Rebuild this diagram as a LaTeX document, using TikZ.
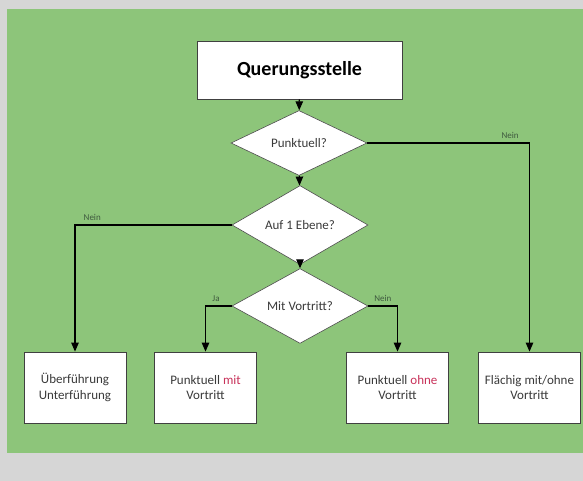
\documentclass[tikz,border=0pt]{standalone}
\usepackage{fontspec}
\setmainfont{Carlito}
\usepackage{xcolor}
\usepackage{tikz}
\usetikzlibrary{
	arrows.meta,      % Per le punte delle frecce (Triangle)
	shapes.geometric  % Per i rombi (diamond)
}
\definecolor{grau}{HTML}{D6D6D6}
\definecolor{wiese}{HTML}{8DC57A}
\definecolor{schrift}{HTML}{3A3A3A}
\definecolor{rot}{HTML}{C8325A}
\definecolor{antwortfarbe}{HTML}{3F5A3F}

\begin{document}
\begin{tikzpicture}[x=1pt, y=-1pt, >={Triangle[length=9pt,width=7.5pt]},
	kasten/.style={draw=black!75, fill=white, line width=0.8pt, minimum width=102pt,
		minimum height=71pt, align=center, text=schrift, font=\fontsize{13}{15.5}\selectfont},
	frage/.style={diamond, draw=black!70, fill=white, line width=0.6pt, minimum width=136pt,
		minimum height=54pt, inner sep=0pt, text=schrift, font=\fontsize{13}{15}\selectfont},
	pfeil/.style={->, line width=1.1pt},
	antwort/.style={above=4pt, inner sep=0pt, text=antwortfarbe, font=\fontsize{9}{10}\selectfont}]
		% --- Sfondo ---
		\useasboundingbox (0,0) rectangle (583,481);
		\fill[grau] (0,0) rectangle (583,481);
		\fill[wiese] (7,9) rectangle (583,453);
		
		% --- Nodi ---
		\node[kasten, minimum width=205pt, minimum height=58pt, font=\fontsize{20}{22}\selectfont\bfseries,
			text=black] (start) at (299.5,70) {Querungsstelle};
		\node[frage] (punktuell) at (299,143) {Punktuell?};
		\node[frage] (ebene) at (300,225) {Auf 1 Ebene?};
		\node[frage] (vortritt) at (300,306) {Mit Vortritt?};
		
		\node[kasten] (ueber) at (75,387.5) {Überführung\\Unterführung};
		\node[kasten] (mit) at (205.5,387.5) {Punktuell \textcolor{rot}{mit}\\Vortritt};
		\node[kasten] (ohne) at (397.5,387.5) {Punktuell \textcolor{rot}{ohne}\\Vortritt};
		\node[kasten] (flaechig) at (529.5,387.5) {Flächig mit/ohne\\Vortritt};
		
		% --- Frecce ---
		\draw[pfeil] (start) -- (punktuell);
		\draw[pfeil] (punktuell) -- (ebene);
		\draw[pfeil] (ebene) -- (vortritt);
		% Rami laterali con etichetta
		\draw[pfeil] (punktuell.east) -| node[antwort, pos=0.44] {Nein} (flaechig.north);
		\draw[pfeil] (ebene.west) -| node[antwort, pos=0.445] {Nein} (ueber.north);
		\draw[pfeil] (vortritt.west) -| node[antwort, pos=0.3] {Ja} (mit.north);
		\draw[pfeil] (vortritt.east) -| node[antwort, pos=0.25] {Nein} (ohne.north);
	\end{tikzpicture}
\end{document}
